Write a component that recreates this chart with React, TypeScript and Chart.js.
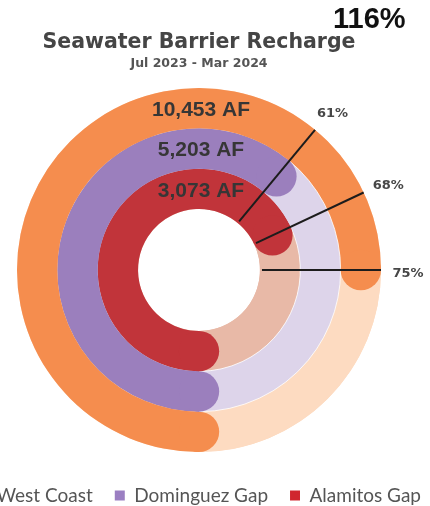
import React, { useEffect, useRef } from 'react';
import { Chart, registerables } from 'chart.js';

Chart.register(...registerables);

// ---- data ----
const seriesNames = ['West Coast', 'Dominguez Gap', 'Alamitos Gap'];
const percentValues = [75, 61, 68];
const volumeAF = [10453, 5203, 3073];
const sliceLabels = ['Recharged', 'Remaining'];
const titleText = 'Seawater Barrier Recharge';
const subtitleText = 'Jul 2023 - Mar 2024';
const headlineText = '116%';

// ---- styles ----
const fillColors = ['#F58D4E', '#9B7FBD', '#C1343A'];
const lightColors = ['#FDDBC1', '#DDD4EA', '#E8B9A7'];
const legendColors = ['#F58D4E', '#9B7FC2', '#D0262E'];

const decorPlugin = {
  id: 'ringDecor',
  beforeDatasetsDraw(chart: any) {
    const ctx = chart.ctx;
    chart.data.datasets.forEach((_ds: any, i: number) => {
      const arc = chart.getDatasetMeta(i).data[0];
      if (!arc) return;
      const { x, y, innerRadius, outerRadius } = arc.getProps(['x', 'y', 'innerRadius', 'outerRadius'], true);
      ctx.save();
      ctx.beginPath();
      ctx.arc(x, y, outerRadius, 0, Math.PI * 2);
      ctx.arc(x, y, innerRadius, 0, Math.PI * 2, true);
      ctx.closePath();
      ctx.fillStyle = lightColors[i];
      ctx.fill();
      ctx.restore();
    });
  },
  afterDatasetsDraw(chart: any) {
    const ctx = chart.ctx;
    const n = chart.data.datasets.length;
    const first = chart.getDatasetMeta(0).data[0];
    const last = chart.getDatasetMeta(n - 1).data[0];
    if (!first || !last) return;
    const outerR = first.getProps(['outerRadius'], true).outerRadius;
    const holeR = last.getProps(['innerRadius'], true).innerRadius;
    ctx.save();
    // thin separators between rings (light part only)
    chart.data.datasets.forEach((_ds: any, i: number) => {
      if (i === 0) return;
      const arc = chart.getDatasetMeta(i).data[1];
      const { x, y, startAngle, endAngle, outerRadius } = arc.getProps(
        ['x', 'y', 'startAngle', 'endAngle', 'outerRadius'], true);
      ctx.beginPath();
      ctx.arc(x, y, outerRadius, startAngle, endAngle);
      ctx.strokeStyle = 'rgba(255,255,255,0.8)';
      ctx.lineWidth = 1;
      ctx.stroke();
    });
    // rounded caps
    chart.data.datasets.forEach((_ds: any, i: number) => {
      const arc = chart.getDatasetMeta(i).data[0];
      const { x, y, startAngle, endAngle, innerRadius, outerRadius } = arc.getProps(
        ['x', 'y', 'startAngle', 'endAngle', 'innerRadius', 'outerRadius'], true);
      const mid = (innerRadius + outerRadius) / 2;
      const half = (outerRadius - innerRadius) / 2;
      ctx.fillStyle = fillColors[i];
      [startAngle, endAngle].forEach((a: number) => {
        ctx.beginPath();
        ctx.arc(x + mid * Math.cos(a), y + mid * Math.sin(a), half, 0, Math.PI * 2);
        ctx.fill();
      });
    });
    // leader lines + percentage labels
    chart.data.datasets.forEach((_ds: any, i: number) => {
      const arc = chart.getDatasetMeta(i).data[0];
      const { x, y, endAngle } = arc.getProps(['x', 'y', 'endAngle'], true);
      const c = Math.cos(endAngle), s = Math.sin(endAngle);
      ctx.beginPath();
      ctx.moveTo(x + (holeR + 2) * c, y + (holeR + 2) * s);
      ctx.lineTo(x + outerR * c, y + outerR * s);
      ctx.strokeStyle = '#1c1c1c';
      ctx.lineWidth = 2;
      ctx.stroke();
      ctx.font = 'bold 13px "DejaVu Sans"';
      ctx.fillStyle = '#474747';
      ctx.textAlign = 'center';
      ctx.textBaseline = 'middle';
      const lr = outerR + 26;
      ctx.fillText(percentValues[i] + '%', x + lr * c + 1, y + lr * s + 4);
    });
    // volume labels
    chart.data.datasets.forEach((_ds: any, i: number) => {
      const arc = chart.getDatasetMeta(i).data[0];
      const { x, y, innerRadius, outerRadius } = arc.getProps(['x', 'y', 'innerRadius', 'outerRadius'], true);
      const mid = (innerRadius + outerRadius) / 2;
      ctx.font = 'bold 21px "Liberation Sans"';
      ctx.fillStyle = '#363636';
      ctx.textAlign = 'center';
      ctx.textBaseline = 'middle';
      ctx.fillText(volumeAF[i].toLocaleString('en-US') + ' AF', x + 2, y - mid + 2);
    });
    ctx.restore();
  },
};

export default function App() {
  const canvasRef = useRef<HTMLCanvasElement | null>(null);

  useEffect(() => {
    if (!canvasRef.current) return;
    const chart = new Chart(canvasRef.current, {
      type: 'doughnut',
      data: {
        labels: sliceLabels,
        datasets: seriesNames.map((name, i) => ({
          label: name,
          data: [percentValues[i], 100 - percentValues[i]],
          backgroundColor: [fillColors[i], lightColors[i]],
          borderWidth: 0,
        })),
      },
      options: {
        animation: false,
        responsive: true,
        maintainAspectRatio: false,
        events: [],
        rotation: 180,
        radius: 182,
        cutout: '33.5%',
        layout: { padding: { top: 0, bottom: 5, left: 0, right: 0 } },
        plugins: {
          title: {
            display: true,
            text: titleText,
            color: '#454545',
            font: { family: 'DejaVu Sans', size: 20.5, weight: 'bold' },
            padding: { top: 30.5, bottom: 0 },
          },
          subtitle: {
            display: true,
            text: subtitleText,
            color: '#555555',
            font: { family: 'DejaVu Sans', size: 12.5, weight: 'bold' },
            padding: { top: 1.2, bottom: 4.7 },
          },
          legend: {
            position: 'bottom',
            labels: {
              boxWidth: 10,
              boxHeight: 10,
              padding: 22,
              color: '#555555',
              font: { family: 'Lato', size: 19 },
              generateLabels: () =>
                seriesNames.map((name, i) => ({
                  text: name,
                  fillStyle: legendColors[i],
                  strokeStyle: legendColors[i],
                  lineWidth: 0,
                  hidden: false,
                  datasetIndex: i,
                  fontColor: '#555555',
                })),
            },
          },
          tooltip: { enabled: false },
        },
      } as any,
      plugins: [decorPlugin],
    });
    return () => chart.destroy();
  }, []);

  return (
    <div style={{ position: 'fixed', left: 0, top: 0, width: 430, height: 506, overflow: 'hidden', background: '#fff' }}>
      <div style={{ position: 'absolute', left: -51, top: 0, width: 500, height: 520 }}>
        <canvas ref={canvasRef} />
      </div>
      <div
        style={{
          position: 'absolute',
          left: 333,
          top: 3.8,
          font: 'bold 29px "Liberation Sans"',
          lineHeight: '29px',
          color: '#111',
          whiteSpace: 'nowrap',
        }}
      >
        {headlineText}
      </div>
    </div>
  );
}
